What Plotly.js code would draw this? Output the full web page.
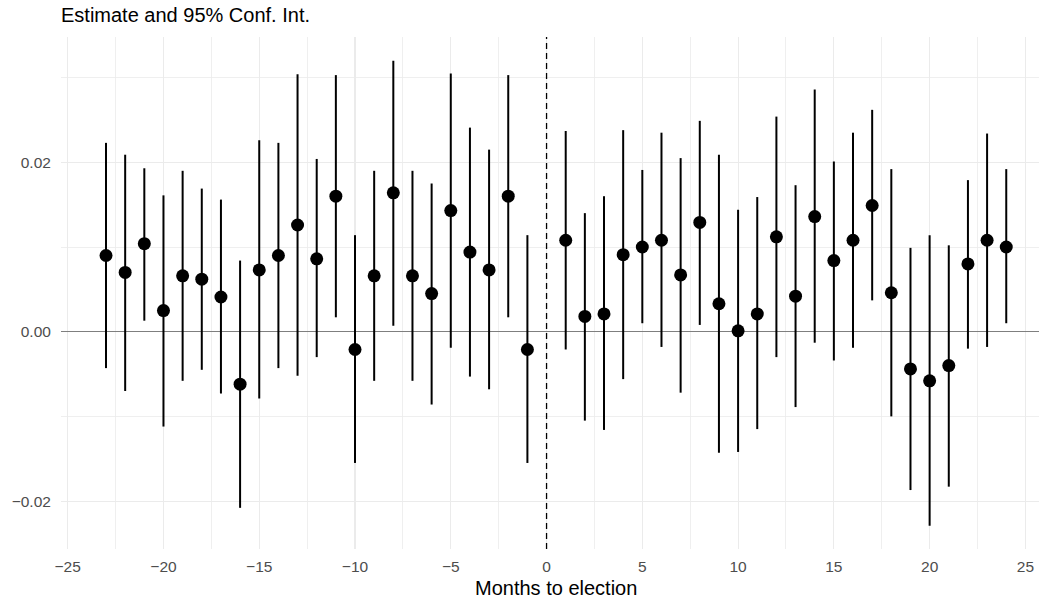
<!DOCTYPE html>
<html>
<head>
<meta charset="utf-8">
<script src="https://cdn.plot.ly/plotly-3.0.1.min.js"></script>
<style>html,body{margin:0;padding:0;background:#fff;}#chart{width:1039px;height:601px;}</style>
</head>
<body>
<div id="chart"></div>
<script>
const months = [-23,-22,-21,-20,-19,-18,-17,-16,-15,-14,-13,-12,-11,-10,-9,-8,-7,-6,-5,-4,-3,-2,-1,
  1,2,3,4,5,6,7,8,9,10,11,12,13,14,15,16,17,18,19,20,21,22,23,24];
const estimate = [0.0090,0.0070,0.0104,0.0025,0.0066,0.0062,0.0041,-0.0062,0.0073,0.0090,0.0126,0.0086,0.0160,-0.0021,0.0066,0.0164,0.0066,0.0045,0.0143,0.0094,0.0073,0.0160,-0.0021,
  0.0108,0.0018,0.0021,0.0091,0.0100,0.0108,0.0067,0.0129,0.0033,0.0001,0.0021,0.0112,0.0042,0.0136,0.0084,0.0108,0.0149,0.0046,-0.0044,-0.0058,-0.0040,0.0080,0.0108,0.0100];
const ciUpper = [0.0223,0.0209,0.0193,0.0161,0.0190,0.0169,0.0156,0.0084,0.0226,0.0223,0.0304,0.0204,0.0303,0.0114,0.0190,0.0320,0.0190,0.0175,0.0305,0.0241,0.0215,0.0303,0.0114,
  0.0237,0.0140,0.0160,0.0238,0.0191,0.0235,0.0205,0.0249,0.0209,0.0144,0.0159,0.0254,0.0173,0.0286,0.0201,0.0235,0.0262,0.0192,0.0099,0.0114,0.0102,0.0179,0.0234,0.0192];
const ciLower = [-0.0043,-0.0070,0.0013,-0.0112,-0.0058,-0.0045,-0.0073,-0.0208,-0.0079,-0.0043,-0.0052,-0.0030,0.0017,-0.0155,-0.0058,0.0007,-0.0058,-0.0086,-0.0019,-0.0053,-0.0068,0.0017,-0.0155,
  -0.0021,-0.0105,-0.0116,-0.0056,0.0010,-0.0018,-0.0072,0.0008,-0.0143,-0.0142,-0.0115,-0.0030,-0.0089,-0.0013,-0.0034,-0.0019,0.0037,-0.0100,-0.0187,-0.0229,-0.0183,-0.0020,-0.0018,0.0010];

const xTickVals = [-25,-20,-15,-10,-5,0,5,10,15,20,25];
const xTickText = ['\u221225','\u221220','\u221215','\u221210','\u22125','0','5','10','15','20','25'];
const yTickVals = [-0.02,0,0.02];
const yTickText = ['\u22120.02','0.00','0.02'];

const plusErr = estimate.map((v,i)=>ciUpper[i]-v);
const minusErr = estimate.map((v,i)=>v-ciLower[i]);

const trace = {
  x: months, y: estimate, type:'scatter', mode:'markers',
  marker:{color:'#000000', size:13},
  error_y:{type:'data', symmetric:false, array:plusErr, arrayminus:minusErr, width:0, thickness:2, color:'#000000'},
  hoverinfo:'skip', showlegend:false
};

const font = "'Liberation Sans', Arial, Helvetica, sans-serif";
const layout = {
  width:1039, height:601,
  margin:{l:61, r:0, t:37, b:52},
  paper_bgcolor:'#ffffff', plot_bgcolor:'#ffffff',
  font:{family:font, color:'#000000'},
  title:{text:'Estimate and 95% Conf. Int.', x:0, xref:'paper', xanchor:'left', y:1-15/601, yref:'container', yanchor:'middle', font:{family:font, size:20, color:'#000000'}},
  xaxis:{
    range:[-25.35,25.71], tickmode:'array', tickvals:xTickVals, ticktext:xTickText,
    showgrid:true, gridcolor:'#EBEBEB', gridwidth:1.1, zeroline:false, showline:false,
    minor:{dtick:2.5, tick0:0, showgrid:true, gridcolor:'#EBEBEB', gridwidth:0.8},
    ticks:'outside', ticklen:3, tickcolor:'rgba(0,0,0,0)',
    tickfont:{family:font, size:15.5, color:'#4D4D4D'}
  },
  yaxis:{
    range:[-0.02566,0.0348], tickmode:'array', tickvals:yTickVals, ticktext:yTickText,
    showgrid:true, gridcolor:'#EBEBEB', gridwidth:1.1, showline:false,
    zeroline:true, zerolinecolor:'#7F7F7F', zerolinewidth:1.3,
    minor:{dtick:0.01, tick0:0, showgrid:true, gridcolor:'#EBEBEB', gridwidth:0.8},
    ticks:'outside', ticklen:6, tickcolor:'rgba(0,0,0,0)',
    tickfont:{family:font, size:15.5, color:'#4D4D4D'}
  },
  annotations:[{text:'Months to election', xref:'paper', yref:'paper', x:0.5061, y:0, xanchor:'center', yanchor:'middle', yshift:-39, showarrow:false, font:{family:font, size:20, color:'#000000'}}],
  shapes:[{type:'line', xref:'x', yref:'paper', x0:0, x1:0, y0:0, y1:1, line:{color:'#000000', width:1.3, dash:'6px,4px'}}]
};

Plotly.newPlot('chart',[trace],layout,{displayModeBar:false, staticPlot:true});
</script>
</body>
</html>
